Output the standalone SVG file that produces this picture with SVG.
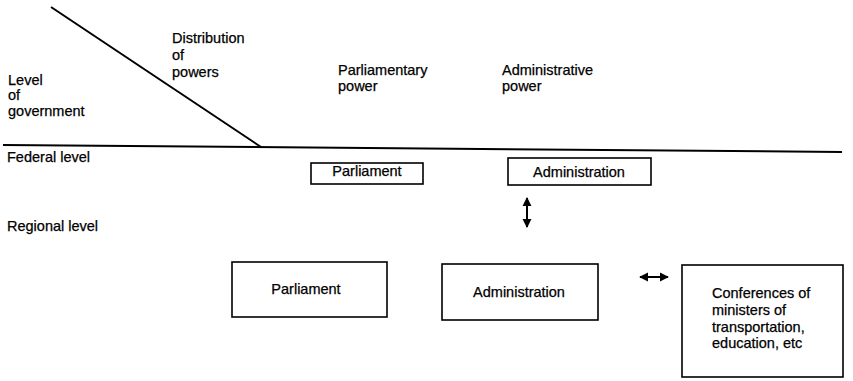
<svg xmlns="http://www.w3.org/2000/svg" width="853" height="381" viewBox="0 0 853 381">
<defs>
<marker id="ah" viewBox="0 0 10 10" refX="9" refY="5" markerWidth="9" markerHeight="10" markerUnits="userSpaceOnUse" orient="auto-start-reverse">
<path d="M0,0 L10,5 L0,10 Z" fill="#000"/>
</marker>
</defs>
<style>
text{font-family:"Liberation Sans",Arial,sans-serif;font-size:14.5px;fill:#000;stroke:#000;stroke-width:0.25}
.box{fill:#fff;stroke:#000;stroke-width:1.6}
.ln{stroke:#000;stroke-width:2;fill:none}
.mid{text-anchor:middle}
</style>
<rect width="853" height="381" fill="#fff"/>
<g id="axes">
<line class="ln" x1="51" y1="7" x2="261" y2="147"/>
<line class="ln" x1="3" y1="145" x2="842" y2="152"/>
</g>
<g id="labels">
<text x="172" y="43">Distribution</text>
<text x="172" y="60">of</text>
<text x="172" y="77">powers</text>
<text x="8" y="85">Level</text>
<text x="8" y="100">of</text>
<text x="8" y="116">government</text>
<text x="338" y="75">Parliamentary</text>
<text x="338" y="91">power</text>
<text x="502" y="75">Administrative</text>
<text x="502" y="91">power</text>
<text x="7" y="162">Federal level</text>
<text x="7" y="231">Regional level</text>
</g>
<g id="fed-parliament">
<rect class="box" x="311" y="163" width="112" height="21"/>
<text class="mid" x="367" y="176">Parliament</text>
</g>
<g id="fed-administration">
<rect class="box" x="508" y="158" width="143" height="27"/>
<text class="mid" x="579" y="177">Administration</text>
</g>
<g id="reg-parliament">
<rect class="box" x="232" y="262" width="155" height="55"/>
<text class="mid" x="306" y="294">Parliament</text>
</g>
<g id="reg-administration">
<rect class="box" x="442" y="264" width="156" height="56"/>
<text class="mid" x="519" y="297">Administration</text>
</g>
<g id="conferences">
<rect class="box" x="682" y="265" width="161" height="112"/>
<text x="712" y="298">Conferences of</text>
<text x="712" y="315">ministers of</text>
<text x="712" y="332">transportation,</text>
<text x="712" y="348">education, etc</text>
</g>
<g id="connectors">
<line class="ln" x1="527" y1="198" x2="527" y2="227" marker-start="url(#ah)" marker-end="url(#ah)"/>
<line class="ln" x1="640" y1="277" x2="668" y2="277" marker-start="url(#ah)" marker-end="url(#ah)"/>
</g>
</svg>
